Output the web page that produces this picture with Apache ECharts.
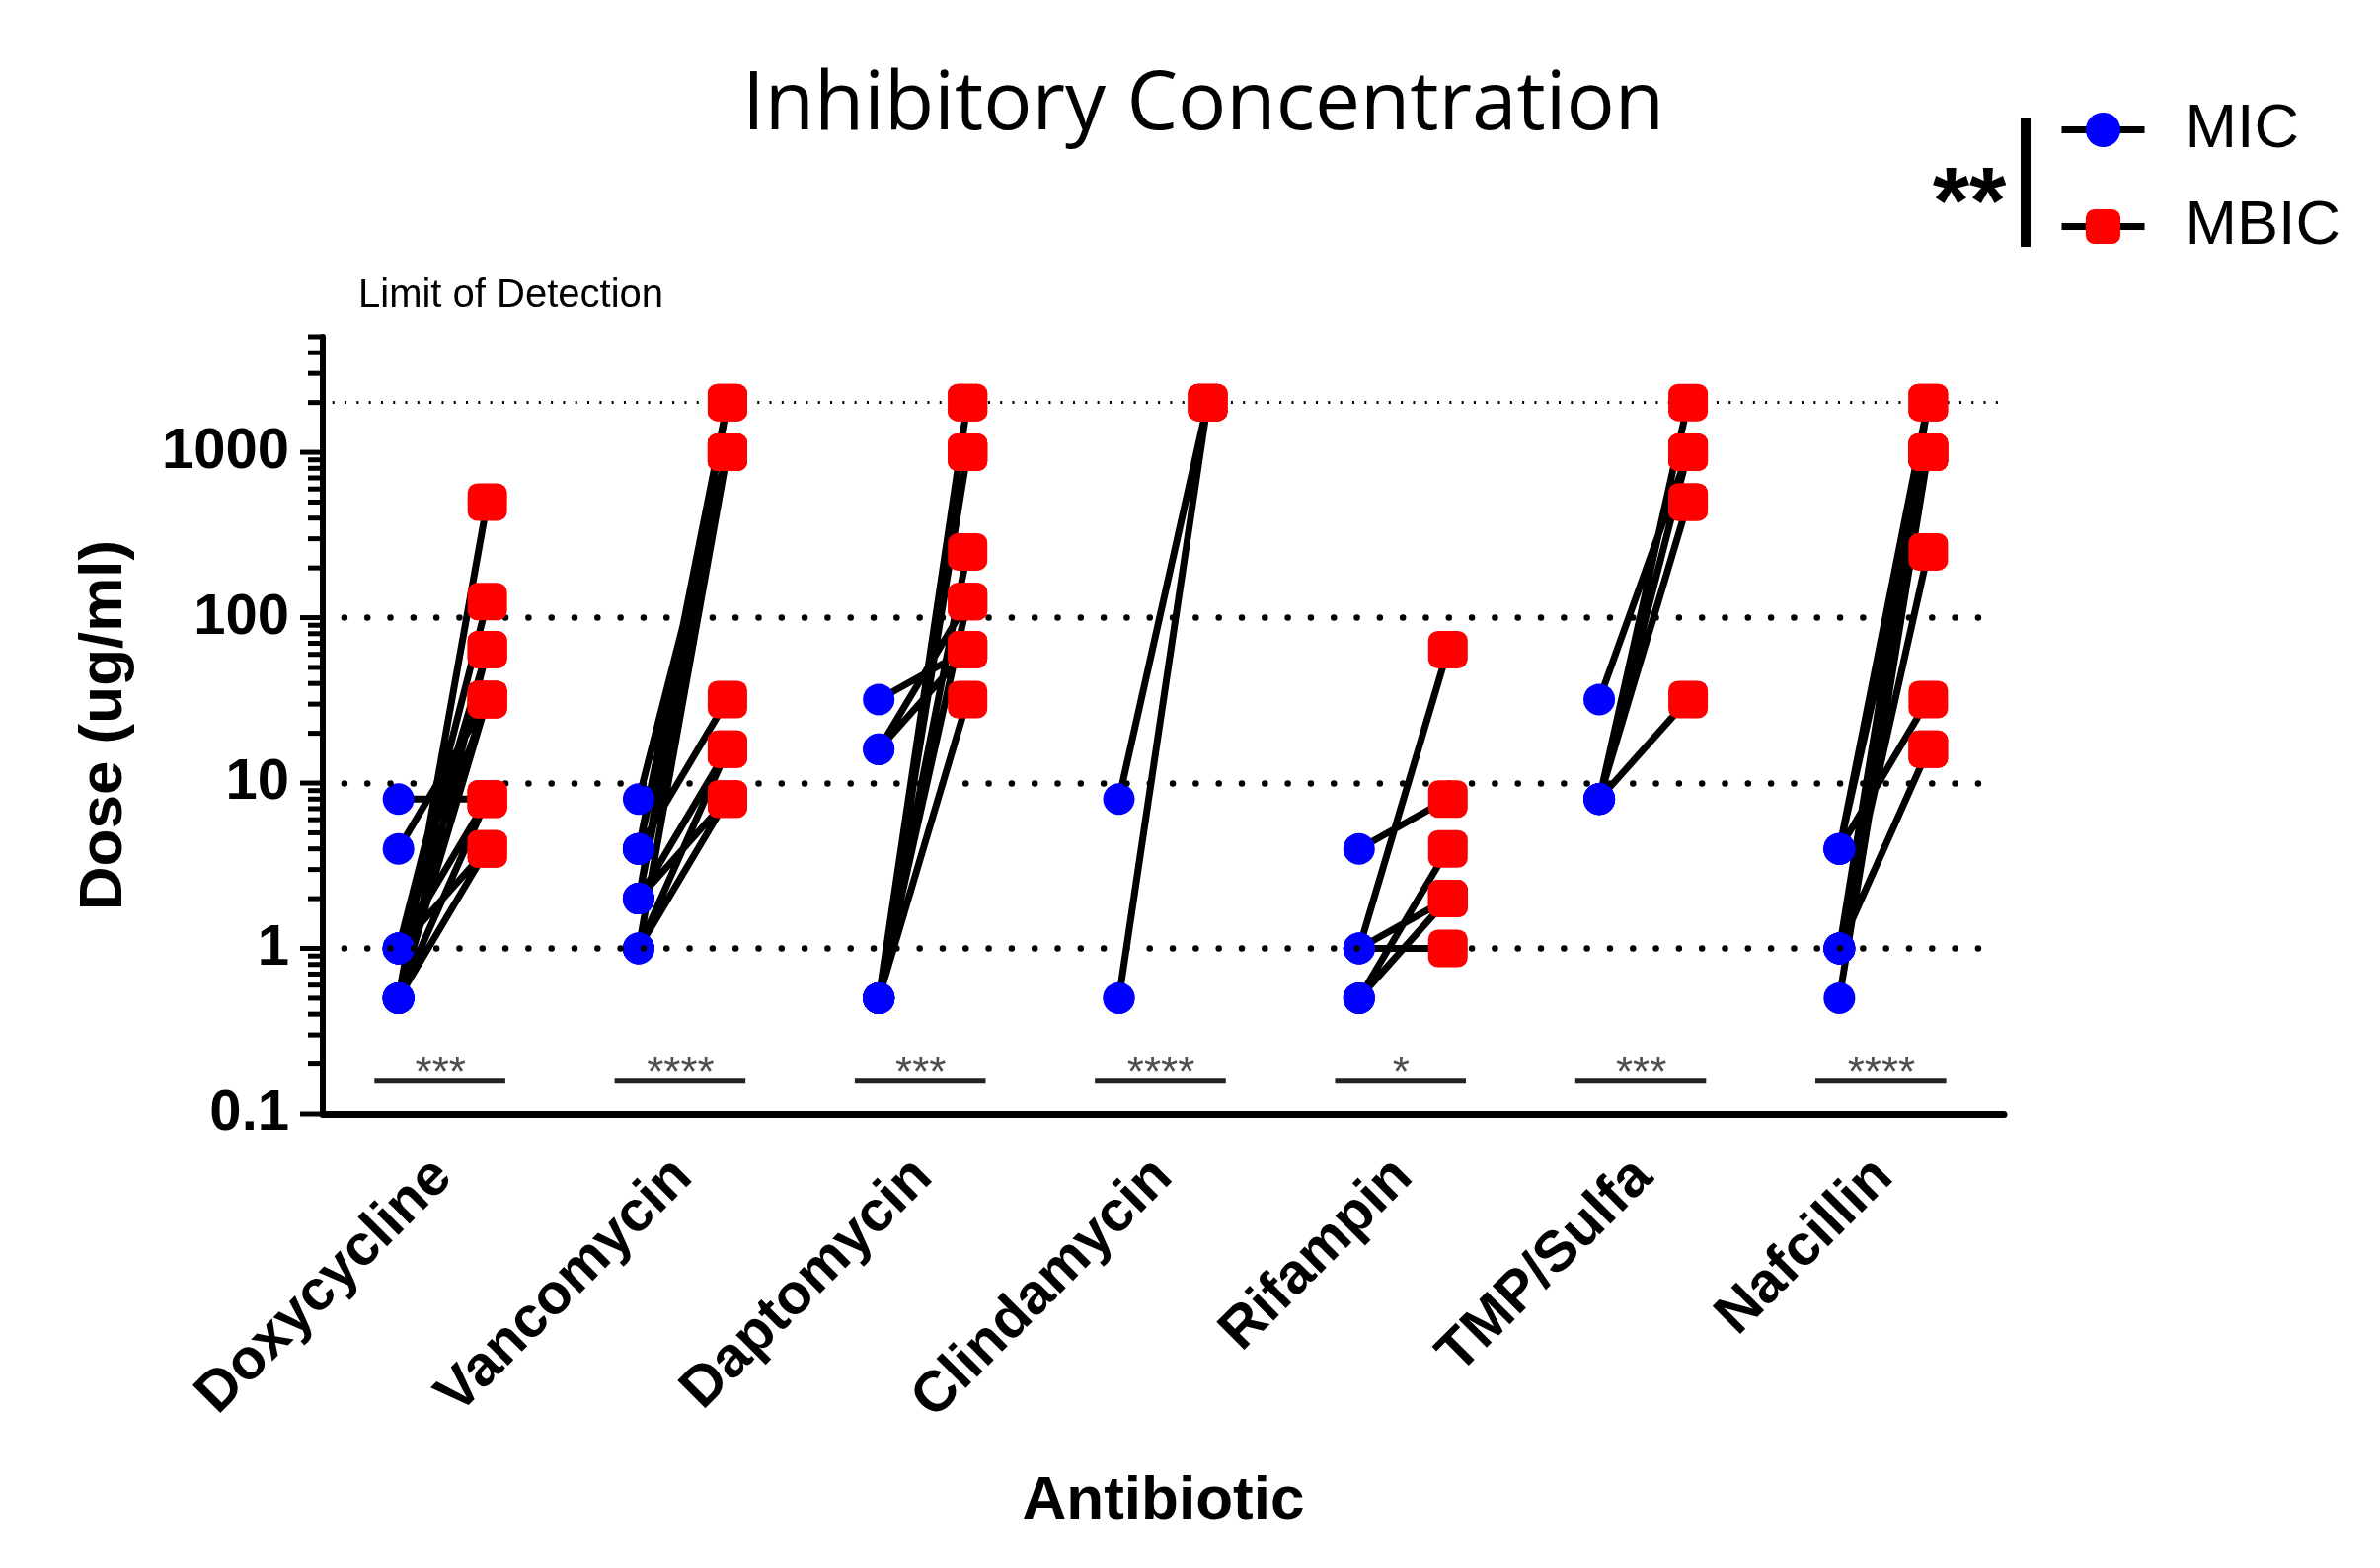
<!DOCTYPE html>
<html>
<head>
<meta charset="utf-8">
<title>Inhibitory Concentration</title>
<script src="https://cdn.jsdelivr.net/npm/echarts@6/dist/echarts.min.js"></script>
<style>
  html, body { margin: 0; padding: 0; background: #ffffff; }
  #chart { width: 2411px; height: 1588px; }
</style>
</head>
<body>
<div id="chart"></div>
<script>
// categories and significance marks
const antibiotics = ['Doxycycline', 'Vancomycin', 'Daptomycin', 'Clindamycin', 'Rifampin', 'TMP/Sulfa', 'Nafcillin'];
const stars = ['***', '****', '***', '****', '*', '***', '****'];

// paired values per isolate (ug/ml), MIC[k] goes with MBIC[k]
const doxycyclineMIC  = [8, 4, 0.5, 1, 1, 0.5, 1, 0.5, 1, 0.5, 0.5, 1];
const doxycyclineMBIC = [8, 32, 500, 125, 64, 64, 32, 32, 8, 8, 4, 4];
const vancomycinMIC   = [8, 4, 4, 2, 2, 1, 4, 2, 2, 1, 1, 4];
const vancomycinMBIC  = [1000, 2000, 1000, 1000, 2000, 1000, 32, 16, 8, 8, 16, 1000];
const daptomycinMIC   = [32, 16, 16, 0.5, 0.5, 0.5, 0.5, 0.5, 0.5, 0.5, 0.5];
const daptomycinMBIC  = [64, 64, 125, 2000, 2000, 1000, 1000, 1000, 250, 125, 32];
const clindamycinMIC  = [8, 0.5, 0.5];
const clindamycinMBIC = [2000, 2000, 2000];
const rifampinMIC     = [4, 1, 1, 1, 0.5, 0.5, 0.5];
const rifampinMBIC    = [8, 64, 1, 2, 4, 2, 2];
const tmpSulfaMIC     = [32, 8, 8, 8, 8, 8, 8];
const tmpSulfaMBIC    = [1000, 2000, 1000, 1000, 500, 500, 32];
const nafcillinMIC    = [4, 4, 1, 1, 1, 0.5, 1, 4, 1, 1, 4];
const nafcillinMBIC   = [2000, 1000, 2000, 1000, 1000, 1000, 250, 32, 16, 16, 1000];

const gridLevels = [1, 10, 100];
const limitOfDetection = 2000;
const yMin = 0.1;
const yMax = 5000;

const micGroups = [doxycyclineMIC, vancomycinMIC, daptomycinMIC, clindamycinMIC, rifampinMIC, tmpSulfaMIC, nafcillinMIC];
const mbicGroups = [doxycyclineMBIC, vancomycinMBIC, daptomycinMBIC, clindamycinMBIC, rifampinMBIC, tmpSulfaMBIC, nafcillinMBIC];

const MIC_DX = -0.185;
const MBIC_DX = 0.185;
const SIG_Y = 0.158;
const GAP = ['-', '-'];
const FONT = 'Liberation Sans, Arial, sans-serif';

const links = [];
const micPoints = [];
const mbicPoints = [];
micGroups.forEach((mics, i) => {
  mics.forEach((m, k) => {
    const b = mbicGroups[i][k];
    links.push([i + MIC_DX, m], [i + MBIC_DX, b], GAP);
    micPoints.push([i + MIC_DX, m], GAP);
    mbicPoints.push([i + MBIC_DX, b], GAP);
  });
});

const sigBars = [];
antibiotics.forEach((a, i) => {
  sigBars.push([i - 0.285, SIG_Y], [i + 0.26, SIG_Y], GAP);
});
const starPoints = antibiotics.map((a, i) => [i - 0.01, SIG_Y]);

// y axis ticks on the log scale: decades long, 2..9 short
const yTicks = [];
for (let d = yMin; d < yMax; d *= 10) {
  const dec = +d.toPrecision(1);
  yTicks.push([-0.5, dec, 1]);
  for (let m = 2; m <= 9; m++) {
    const v = +(m * dec).toPrecision(2);
    if (v <= yMax) yTicks.push([-0.5, v, 0]);
  }
}

const guideLines = gridLevels.map(v => [
  { coord: [-0.41, v], lineStyle: { color: '#000', width: 6.5, type: [0.01, 23.3], cap: 'round' } },
  { coord: [6.42, v] }
]).concat([[
  { coord: [-0.46, limitOfDetection], lineStyle: { color: '#000', width: 3, type: [2, 10.3], cap: 'butt' } },
  { coord: [6.48, limitOfDetection] }
]]);

const chart = echarts.init(document.getElementById('chart'), null, { renderer: 'canvas' });

chart.setOption({
  backgroundColor: '#ffffff',
  animation: false,
  grid: { left: 327, right: 381, top: 341, bottom: 460 },
  legend: {
    data: ['MIC', 'MBIC'],
    orient: 'vertical',
    left: 2080,
    top: 95,
    itemWidth: 84,
    itemHeight: 44,
    itemGap: 35,
    selectedMode: false,
    lineStyle: { width: 7, color: '#000' },
    textStyle: { fontFamily: FONT, fontSize: 63, color: '#000', padding: [0, 0, 0, 36] }
  },
  xAxis: [{
    type: 'category',
    data: antibiotics,
    boundaryGap: true,
    axisLine: { lineStyle: { color: '#000', width: 7 } },
    axisTick: { alignWithLabel: true, length: 21, lineStyle: { color: '#000', width: 6 } },
    axisLabel: { rotate: 45, interval: 0, margin: 55, color: '#000', fontFamily: FONT, fontWeight: 'bold', fontSize: 58 },
    name: 'Antibiotic',
    nameLocation: 'middle',
    nameGap: 362,
    nameTextStyle: { color: '#000', fontFamily: FONT, fontWeight: 'bold', fontSize: 62 }
  }, {
    type: 'value',
    min: -0.5,
    max: 6.5,
    show: false
  }],
  yAxis: {
    type: 'log',
    logBase: 10,
    min: yMin,
    max: yMax,
    axisLine: { show: true, onZero: false, lineStyle: { color: '#000', width: 6 } },
    axisTick: { show: false },
    minorTick: { show: false },
    splitLine: { show: false },
    axisLabel: {
      margin: 34,
      color: '#000',
      fontFamily: FONT,
      fontWeight: 'bold',
      fontSize: 58,
      formatter: v => {
        const lg = Math.log10(v);
        return Math.abs(lg - Math.round(lg)) < 1e-6 ? String(+v.toPrecision(2)) : '';
      }
    },
    name: 'Dose (ug/ml)',
    nameLocation: 'middle',
    nameGap: 190,
    nameTextStyle: { color: '#000', fontFamily: FONT, fontWeight: 'bold', fontSize: 62 }
  },
  series: [{
    name: 'ticks',
    type: 'custom',
    xAxisIndex: 1,
    clip: false,
    silent: true,
    z: 5,
    data: yTicks,
    renderItem: (params, api) => {
      const p = api.coord([api.value(0), api.value(1)]);
      const len = api.value(2) ? 23 : 15;
      return {
        type: 'line',
        shape: { x1: p[0] - len, y1: p[1], x2: p[0], y2: p[1] },
        style: { stroke: '#000', lineWidth: 5 }
      };
    }
  }, {
    name: 'sig',
    type: 'line',
    xAxisIndex: 1,
    silent: true,
    symbol: 'none',
    data: sigBars,
    lineStyle: { color: '#222', width: 5 },
    z: 2,
    markLine: {
      silent: true,
      symbol: ['none', 'none'],
      label: { show: false },
      data: guideLines
    }
  }, {
    name: 'stars',
    type: 'scatter',
    xAxisIndex: 1,
    silent: true,
    symbolSize: 1,
    itemStyle: { color: 'rgba(0,0,0,0)' },
    data: starPoints,
    label: {
      show: true,
      position: 'inside',
      offset: [0, -6],
      formatter: p => stars[p.dataIndex],
      color: '#222',
      fontFamily: FONT,
      fontSize: 44
    },
    z: 3
  }, {
    name: 'links',
    type: 'line',
    xAxisIndex: 1,
    silent: true,
    symbol: 'none',
    data: links,
    lineStyle: { color: '#000', width: 7 },
    z: 3
  }, {
    name: 'MIC',
    type: 'line',
    xAxisIndex: 1,
    silent: true,
    data: micPoints,
    symbol: 'circle',
    symbolSize: 32,
    itemStyle: { color: '#0000ff' },
    lineStyle: { color: '#000', width: 6 },
    z: 4
  }, {
    name: 'MBIC',
    type: 'line',
    xAxisIndex: 1,
    silent: true,
    data: mbicPoints,
    symbol: 'roundRect',
    symbolSize: [40, 38],
    itemStyle: { color: '#ff0000' },
    lineStyle: { color: '#000', width: 6 },
    z: 5
  }],
  graphic: [{
    type: 'text',
    x: 1219,
    y: 108,
    style: { text: 'Inhibitory Concentration', fill: '#000', font: '82px "Open Sans", sans-serif', textAlign: 'center', textVerticalAlign: 'middle' }
  }, {
    type: 'text',
    x: 363,
    y: 300,
    style: { text: 'Limit of Detection', fill: '#000', font: '40px "Liberation Sans", Arial, sans-serif', textAlign: 'left', textVerticalAlign: 'middle' }
  }, {
    type: 'text',
    x: 1995,
    y: 210,
    style: { text: '**', fill: '#000', font: 'bold 96px "Liberation Sans", Arial, sans-serif', textAlign: 'center', textVerticalAlign: 'middle' }
  }, {
    type: 'rect',
    shape: { x: 2047, y: 120, width: 10, height: 130 },
    style: { fill: '#000' }
  }]
});
</script>
</body>
</html>
